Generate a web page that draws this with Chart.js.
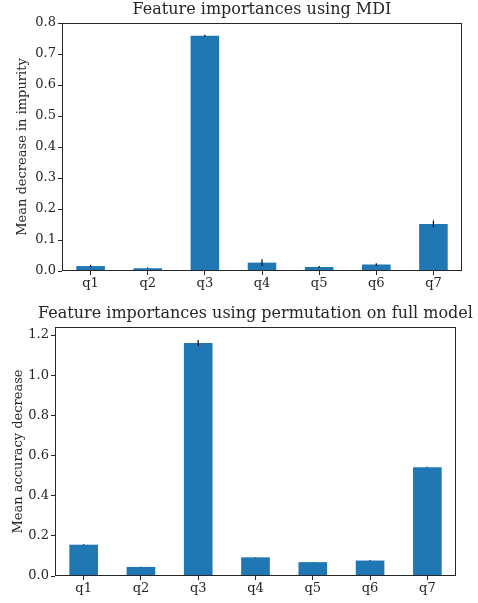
<!DOCTYPE html>
<html>
<head>
<meta charset="utf-8">
<script src="https://cdn.jsdelivr.net/npm/chart.js@4"></script>
<style>
  html, body { margin: 0; padding: 0; background: #fff; }
  #wrap { position: relative; width: 478px; height: 603px; }
  .panel { position: absolute; left: 0; width: 478px; }
  #top { top: 0; height: 298px; }
  #bottom { top: 298px; height: 305px; }
</style>
</head>
<body>
<div id="wrap">
  <div class="panel" id="top"><canvas id="mdiChart"></canvas></div>
  <div class="panel" id="bottom"><canvas id="permChart"></canvas></div>
</div>
<script>
"use strict";

// feature names
const features = ["q1", "q2", "q3", "q4", "q5", "q6", "q7"];

// MDI importances + std
const mdiMeans = [0.016, 0.009, 0.759, 0.027, 0.013, 0.021, 0.152];
const mdiStd = [0.004, 0.002, 0.003, 0.011, 0.003, 0.004, 0.011];
const mdiTicks = [0.0, 0.1, 0.2, 0.3, 0.4, 0.5, 0.6, 0.7, 0.8];

// permutation importances + std
const permMeans = [0.156, 0.045, 1.160, 0.093, 0.069, 0.077, 0.542];
const permStd = [0.002, 0.001, 0.015, 0.001, 0.001, 0.002, 0.002];
const permTicks = [0.0, 0.2, 0.4, 0.6, 0.8, 1.0, 1.2];

const FONT = "'DejaVu Serif', serif";
const INK = "#262626";
const BLUE = "#1f77b4";

// error bars, axes frame and a title centred over the axes (matplotlib style)
const mplPlugin = {
  id: "mpl",
  afterDatasetsDraw(chart, args, opts) {
    const { ctx, scales } = chart;
    const x = scales.x, y = scales.y;
    ctx.save();
    ctx.strokeStyle = "#000";
    ctx.lineWidth = 1.2;
    opts.std.forEach((s, i) => {
      const v = chart.data.datasets[0].data[i];
      const px = x.getPixelForValue(i);
      ctx.beginPath();
      ctx.moveTo(px, y.getPixelForValue(v - s));
      ctx.lineTo(px, y.getPixelForValue(v + s));
      ctx.stroke();
    });
    // frame
    const a = chart.chartArea;
    ctx.strokeStyle = INK;
    ctx.lineWidth = 1;
    ctx.strokeRect(a.left + 0.5, a.top + 0.5, a.right - a.left - 1, a.bottom - a.top - 1);
    // title
    ctx.fillStyle = INK;
    ctx.font = "16px " + FONT;
    ctx.textAlign = "center";
    ctx.textBaseline = "middle";
    ctx.fillText(opts.title, (a.left + a.right) / 2, opts.titleY);
    ctx.restore();
  }
};

function makeChart(id, means, std, ticks, yMax, title, yLabel, area) {
  const ctx = document.getElementById(id).getContext("2d");
  return new Chart(ctx, {
    type: "bar",
    data: {
      labels: features,
      datasets: [{ data: means, backgroundColor: BLUE, borderWidth: 0,
                   categoryPercentage: 1.0, barPercentage: 0.5 }]
    },
    options: {
      responsive: true,
      maintainAspectRatio: false,
      animation: false,
      layout: { padding: { left: 0, right: area.right, top: area.top, bottom: 0 } },
      plugins: {
        legend: { display: false },
        tooltip: { enabled: false },
        title: { display: false },
        mpl: { std: std, title: title, titleY: area.titleY }
      },
      scales: {
        x: {
          offset: true,
          grid: { display: true, drawOnChartArea: false, offset: false, tickLength: 4, color: INK },
          border: { display: false },
          ticks: { color: INK, font: { family: FONT, size: 13 }, padding: 1, maxRotation: 0 },
          afterFit(scale) { scale.height = area.xHeight; }
        },
        y: {
          min: 0, max: yMax,
          afterBuildTicks(scale) { scale.ticks = ticks.map(v => ({ value: v })); },
          grid: { display: true, drawOnChartArea: false, tickLength: 4, color: INK },
          border: { display: false },
          ticks: { color: INK, font: { family: FONT, size: 13 }, padding: 2,
                   callback: v => v.toFixed(1) },
          title: { display: true, text: yLabel, color: INK,
                   font: { family: FONT, size: 13 }, padding: { top: area.labelPad, bottom: 2 } },
          afterFit(scale) { scale.width = area.left; }
        }
      }
    },
    plugins: [mplPlugin]
  });
}

makeChart("mdiChart", mdiMeans, mdiStd, mdiTicks, 0.8,
  "Feature importances using MDI", "Mean decrease in impurity",
  { left: 62, right: 16, top: 23, titleY: 10, labelPad: 15, xHeight: 27 });

makeChart("permChart", permMeans, permStd, permTicks, 1.24,
  "Feature importances using permutation on full model", "Mean accuracy decrease",
  { left: 55, right: 22, top: 29, titleY: 16, labelPad: 11, xHeight: 27 });
</script>
</body>
</html>
